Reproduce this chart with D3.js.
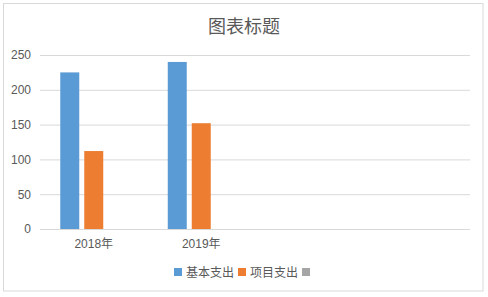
<!DOCTYPE html>
<html><head><meta charset="utf-8">
<script src="https://cdn.jsdelivr.net/npm/d3@7/dist/d3.min.js"></script>
<style>
body{margin:0;background:#fff;}
text{font-family:"Liberation Sans","Noto Sans CJK SC",sans-serif;}
</style></head>
<body><svg id="c" width="488" height="297"></svg>
<script>
const categories = ["2018年", "2019年", "", ""];
const seriesNames = ["基本支出", "项目支出", ""];
const basic = [225, 240, null, null];
const project = [112, 152, null, null];
const third = [null, null, null, null];
const yTicks = [0, 50, 100, 150, 200, 250];
const colors = ["#5B9BD5", "#ED7D31", "#A5A5A5"];
const title = "图表标题";

const svg = d3.select("#c");
svg.append("rect").attr("x",3.5).attr("y",3.5).attr("width",479.5).attr("height",287.5)
  .attr("fill","#fff").attr("stroke","#D9D9D9").attr("stroke-width",1);

const pL = 40, pR = 470, pT = 55, pB = 229;
const y = d3.scaleLinear().domain([0,250]).range([pB, pT]);
const x0 = d3.scaleBand().domain(d3.range(categories.length)).range([pL, pR]).padding(0);
const x1 = d3.scaleBand().domain(d3.range(seriesNames.length)).range([0, x0.bandwidth()])
  .paddingInner(0.2083).paddingOuter(0.844);

svg.append("text").attr("x",244).attr("y",33).attr("text-anchor","middle")
  .attr("font-size",18).attr("fill","#595959").text(title);

const yAxis = d3.axisLeft(y).tickValues(yTicks).tickSize(-(pR-pL)).tickPadding(9);
const gy = svg.append("g").attr("transform",`translate(${pL},0)`).call(yAxis);
gy.select(".domain").remove();
gy.selectAll(".tick line").attr("stroke","#D9D9D9");
gy.selectAll(".tick text").attr("font-size",12).attr("fill","#595959").attr("font-family","Liberation Sans, sans-serif");

const data = [basic, project, third];
data.forEach((vals, s) => {
  svg.append("g").selectAll("rect").data(vals.map((v,i)=>({v,i})).filter(d=>d.v!=null))
    .join("rect")
    .attr("x", d => x0(d.i) + x1(s))
    .attr("width", x1.bandwidth())
    .attr("y", d => y(d.v))
    .attr("height", d => y(0) - y(d.v))
    .attr("fill", colors[s]);
});

const xAxis = d3.axisBottom(x0).tickFormat(i => categories[i]).tickSize(0).tickPadding(10);
const gx = svg.append("g").attr("transform",`translate(0,${pB})`).call(xAxis);
gx.select(".domain").attr("stroke","#D9D9D9").attr("d",`M${pL},0.5H${pR}`);
gx.selectAll(".tick text").attr("font-size",12).attr("fill","#595959");

// legend
const lg = svg.append("g");
let lx = 174;
seriesNames.forEach((n, s) => {
  lg.append("rect").attr("x", lx).attr("y", 268).attr("width", 8).attr("height", 8).attr("fill", colors[s]);
  const t = lg.append("text").attr("x", lx + 12).attr("y", 277).attr("font-size", 12)
    .attr("fill","#595959").text(n);
  const w = n ? t.node().getComputedTextLength() : 0;
  lx += 12 + w + 4;
});
</script></body></html>
